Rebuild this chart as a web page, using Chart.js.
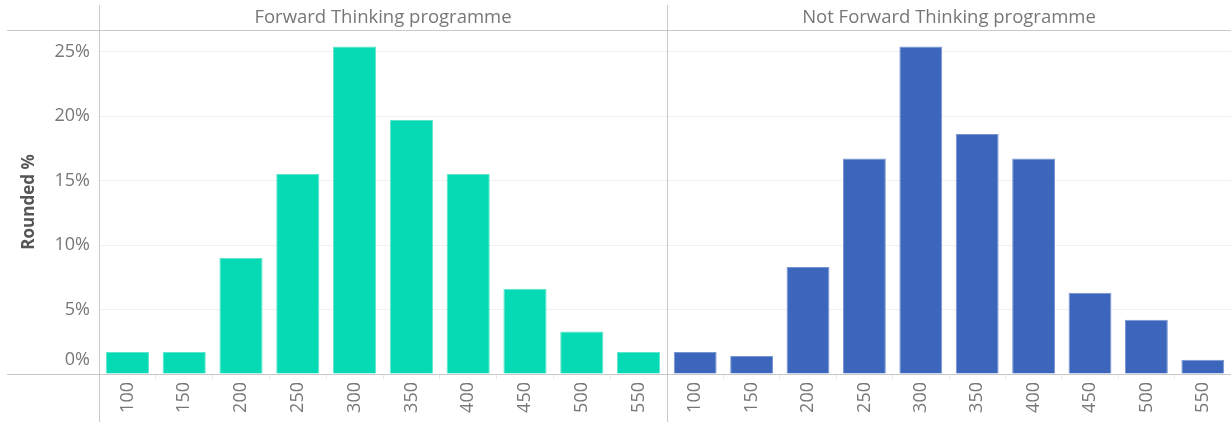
<!DOCTYPE html>
<html>
<head>
<meta charset="utf-8">
<script src="https://cdn.jsdelivr.net/npm/chart.js@4.4.1/dist/chart.umd.min.js"></script>
<style>
  html, body { margin: 0; padding: 0; background: #fff; }
  #wrap { position: relative; width: 1231px; height: 422px; }
  #leftBox { position: absolute; left: 0; top: 0; width: 667px; height: 422px; }
  #rightBox { position: absolute; left: 667px; top: 0; width: 564px; height: 422px; }
</style>
</head>
<body>
<div id="wrap">
  <div id="leftBox"><canvas id="leftChart"></canvas></div>
  <div id="rightBox"><canvas id="rightChart"></canvas></div>
</div>
<script>
// data
var categories = ['100', '150', '200', '250', '300', '350', '400', '450', '500', '550'];
var ftValues = [1.7, 1.7, 9.0, 15.5, 25.4, 19.7, 15.5, 6.6, 3.3, 1.7];
var notFtValues = [1.7, 1.4, 8.3, 16.7, 25.4, 18.6, 16.7, 6.3, 4.2, 1.1];
var yTicks = [0, 5, 10, 15, 20, 25];
var panelTitles = ['Forward Thinking programme', 'Not Forward Thinking programme'];
var yTitle = 'Rounded %';

var FONT = "'Open Sans', sans-serif";
var LINE = '#c8c8c8';
var GRID = '#f0f0f0';
var TEXT = '#777';

// header, frame lines and y labels (tableau style)
var framePlugin = {
  id: 'frame',
  afterDraw: function(chart, args, opts) {
    var ctx = chart.ctx;
    var a = chart.chartArea;
    var y = chart.scales.y;
    ctx.save();
    ctx.strokeStyle = LINE;
    ctx.lineWidth = 1;
    ctx.beginPath();
    // top line
    ctx.moveTo(opts.lineStart, 30.5);
    ctx.lineTo(chart.width, 30.5);
    // baseline
    ctx.moveTo(opts.lineStart, Math.round(a.bottom) + 0.5);
    ctx.lineTo(chart.width, Math.round(a.bottom) + 0.5);
    // vertical line
    ctx.moveTo(Math.round(a.left) + 0.5, 5);
    ctx.lineTo(Math.round(a.left) + 0.5, chart.height);
    ctx.stroke();

    ctx.fillStyle = TEXT;
    ctx.font = '18.5px ' + FONT;
    ctx.textAlign = 'center';
    ctx.textBaseline = 'middle';
    ctx.fillText(opts.title, (a.left + a.right) / 2, 18);

    if (opts.yLabels) {
      ctx.font = '18px ' + FONT;
      ctx.textAlign = 'right';
      yTicks.forEach(function(v) {
        var py = y.getPixelForValue(v);
        if (v === 0) { py -= 14; }
        ctx.fillText(v + '%', a.left - 9, py);
      });
    }
    ctx.restore();
  }
};

function makeChart(id, values, color, border, title, withAxis) {
  var ctx = document.getElementById(id).getContext('2d');
  return new Chart(ctx, {
    type: 'bar',
    data: {
      labels: categories,
      datasets: [{
        data: values,
        backgroundColor: color,
        borderColor: border,
        borderWidth: 1,
        categoryPercentage: 1,
        barPercentage: 0.76
      }]
    },
    options: {
      responsive: true,
      maintainAspectRatio: false,
      animation: false,
      layout: { padding: { top: 30, left: 0, right: 0, bottom: 0 } },
      plugins: {
        legend: { display: false },
        tooltip: { enabled: false },
        frame: { title: title, yLabels: withAxis, lineStart: withAxis ? 7 : 0 }
      },
      scales: {
        x: {
          offset: true,
          border: { display: false },
          grid: { offset: true, drawOnChartArea: false, tickLength: 5, color: '#e8e8e8' },
          ticks: { minRotation: 90, maxRotation: 90, padding: 3, color: TEXT, font: { family: FONT, size: 18 } },
          afterFit: function(s) { s.height = 48; }
        },
        y: {
          min: 0,
          max: 26.67,
          border: { display: false },
          grid: { color: GRID, drawTicks: false },
          ticks: { display: false },
          afterBuildTicks: function(s) {
            s.ticks = yTicks.map(function(v) { return { value: v }; });
          },
          title: {
            display: withAxis,
            text: yTitle,
            color: '#555',
            font: { family: FONT, size: 17, weight: 'bold' },
            padding: { top: 19, bottom: 0 }
          },
          afterFit: function(s) { s.width = withAxis ? 99 : 0; }
        }
      }
    },
    plugins: [framePlugin]
  });
}

makeChart('leftChart', ftValues, '#06dab4', '#5fe5cc', panelTitles[0], true);
makeChart('rightChart', notFtValues, '#3c66bc', '#7a96d0', panelTitles[1], false);
</script>
</body>
</html>
